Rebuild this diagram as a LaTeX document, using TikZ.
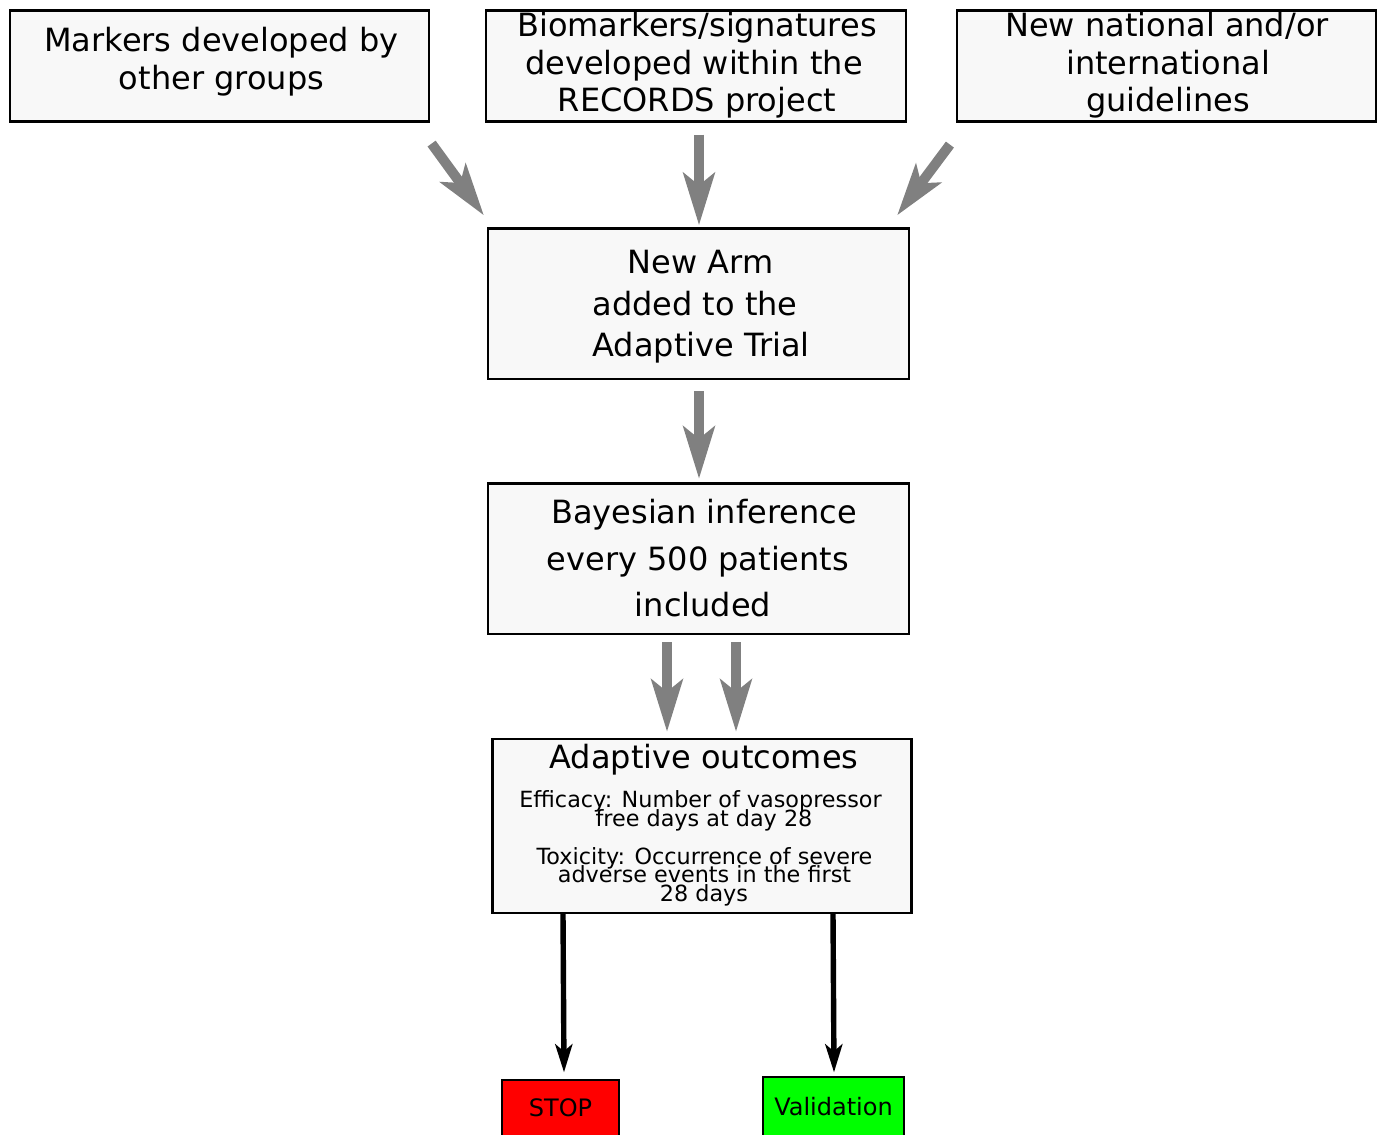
\documentclass[tikz,border=0pt]{standalone}
\usepackage{fontspec}
\setmainfont{DejaVu Sans}
\usetikzlibrary{arrows.meta,calc}
\definecolor{boxfill}{HTML}{F8F8F8}
\definecolor{arrgray}{HTML}{808080}
\definecolor{stopred}{HTML}{FF0000}
\definecolor{valgreen}{HTML}{00FF00}
\begin{document}
\begin{tikzpicture}[x=0.5pt,y=-0.5pt,
  box/.style={draw=black,line width=1.1pt,fill=boxfill,inner sep=0pt},
  txt/.style={anchor=base,inner sep=0pt,font=\fontsize{16}{19}\selectfont},
  smalltxt/.style={anchor=base,inner sep=0pt,font=\fontsize{11.15}{11}\selectfont},
  tagbox/.style={draw=black,line width=0.6pt,inner sep=0pt,font=\fontsize{12}{14}\selectfont},
  gar/.style={draw=arrgray,line width=5pt,-{Stealth[length=26pt,width=15.5pt,inset=6pt]}},
  bar/.style={draw=black,line width=2.7pt,-{Stealth[length=14pt,width=8.5pt,inset=3.5pt]}},
]
\useasboundingbox (0,0) rectangle (1379,1134);

% top boxes
\node[box,minimum width=209.5pt,minimum height=55.5pt] (b1) at (219.5,66) {};
\node[box,minimum width=210pt,minimum height=55.5pt] (b2) at (696,66) {};
\node[box,minimum width=209.5pt,minimum height=55.5pt] (b3) at (1166.5,66) {};

\node[txt] (t1a) at (221.5,51.7) {Markers developed by};
\node[txt] (t1b) at (221.5,90) {other groups};

\node[txt] (t2a) at (697,36.7) {Biomarkers/signatures};
\node[txt] (t2b) at (694,74.2) {developed within the};
\node[txt] (t2c) at (697,111.7) {RECORDS project};

\node[txt] (t3a) at (1167,36.7) {New national and/or};
\node[txt] (t3b) at (1168,74.2) {international};
\node[txt] (t3c) at (1168,111.7) {guidelines};

% middle boxes
\node[box,minimum width=210.5pt,minimum height=75.25pt] (arm) at (698.5,303.75) {};
\node[txt] (t4a) at (700.5,273.3) {New Arm};
\node[txt] (t4b) at (695,315) {added to the};
\node[txt] (t4c) at (701,356.7) {Adaptive Trial};

\node[box,minimum width=210.5pt,minimum height=75.25pt] (bayes) at (698.5,558.75) {};
\node[txt] (t5a) at (704,523.3) {Bayesian inference};
\node[txt] (t5b) at (698,570) {every 500 patients};
\node[txt] (t5c) at (703,616.7) {included};

\node[box,minimum width=209.5pt,minimum height=87pt] (out) at (702,826) {};
\node[txt] (t6) at (704,768.3) {Adaptive outcomes};
\node[smalltxt] (t6a) at (700.5,807.5) {Efficacy: Number of vasopressor};
\node[smalltxt] (t6b) at (704,826) {free days at day 28};
\node[smalltxt] (t6c) at (704.5,864) {Toxicity: Occurrence of severe};
\node[smalltxt] (t6d) at (704.5,882.5) {adverse events in the first};
\node[smalltxt] (t6e) at (704,901) {28 days};

% result boxes
\node[tagbox,fill=stopred,minimum width=58.5pt,minimum height=28pt] (stop) at (560.5,1108) {STOP};
\node[tagbox,fill=valgreen,minimum width=70.5pt,minimum height=29.5pt] (val) at (833.5,1106.5) {Validation};

% gray arrows
\draw[gar] ($(b1.south east)+(1.5,21)$) -- ($(arm.north west)+(-3,-12)$);
\draw[gar] ($(b2.south)+(3,12)$) -- ($(arm.north)+(0.5,-2)$);
\draw[gar] ($(b3.south west)+(-6,22)$) -- ($(arm.north east)+(-13,-12)$);
\draw[gar] ($(arm.south)+(0.5,11)$) -- ($(bayes.north)+(0.5,-3.5)$);
\draw[gar] ($(bayes.south)+(-31.5,7)$) -- ($(out.north)+(-35,-6)$);
\draw[gar] ($(bayes.south)+(37.5,7)$) -- ($(out.north)+(34,-6)$);

% black arrows
\draw[bar] ($(out.south)+(-139,0)$) -- ($(stop.north)+(3.5,-7)$);
\draw[bar] ($(out.south)+(131,0)$) -- ($(val.north)+(0.5,-4)$);
\end{tikzpicture}
\end{document}
